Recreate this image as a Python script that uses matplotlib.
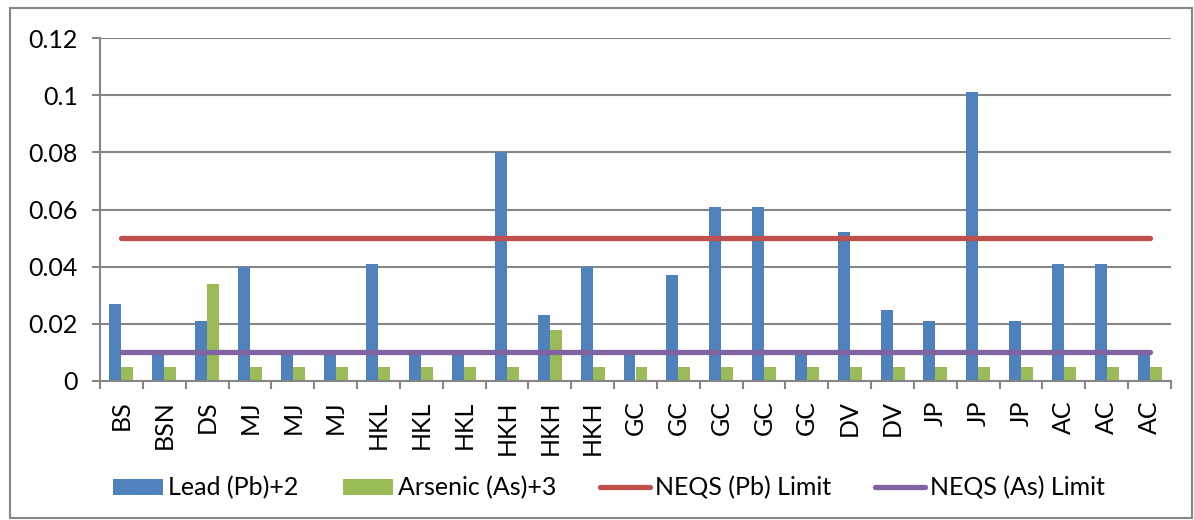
import numpy as np
import matplotlib.pyplot as plt
from matplotlib.patches import Rectangle
from matplotlib.ticker import FuncFormatter

sites = ["BS", "BSN", "DS", "MJ", "MJ", "MJ", "HKL", "HKL", "HKL", "HKH", "HKH", "HKH",
         "GC", "GC", "GC", "GC", "GC", "DV", "DV", "JP", "JP", "JP", "AC", "AC", "AC"]
lead = [0.027, 0.01, 0.021, 0.04, 0.01, 0.01, 0.041, 0.01, 0.01, 0.08, 0.023, 0.04,
        0.01, 0.037, 0.061, 0.061, 0.01, 0.052, 0.025, 0.021, 0.101, 0.021, 0.041, 0.041, 0.01]
arsenic = [0.005, 0.005, 0.034, 0.005, 0.005, 0.005, 0.005, 0.005, 0.005, 0.005, 0.018, 0.005,
           0.005, 0.005, 0.005, 0.005, 0.005, 0.005, 0.005, 0.005, 0.005, 0.005, 0.005, 0.005, 0.005]
neqs_pb = 0.05
neqs_as = 0.01

plt.rcParams['font.family'] = ['Lato', 'DejaVu Sans']
grey = '#868686'

fig = plt.figure(figsize=(11.94, 5.2), dpi=100)
ax = fig.add_axes([100 / 1194, 1 - 381 / 520, 1071 / 1194, 343 / 520])

x = np.arange(len(sites))
w = 0.28
b1 = ax.bar(x - w / 2, lead, w, color='#4F81BD', label='Lead (Pb)+2', zorder=2)
b2 = ax.bar(x + w / 2, arsenic, w, color='#9BBB59', label='Arsenic (As)+3', zorder=2)
l1, = ax.plot(x, [neqs_pb] * len(x), color='#C0504D', lw=3.8, solid_capstyle='round',
              label='NEQS (Pb) Limit', zorder=3)
l2, = ax.plot(x, [neqs_as] * len(x), color='#8064A2', lw=3.8, solid_capstyle='round',
              label='NEQS (As) Limit', zorder=3)

ax.set_xlim(-0.5, len(sites) - 0.5)
ax.set_ylim(0, 0.12)
ax.set_yticks(np.arange(0, 0.121, 0.02))
ax.yaxis.set_major_formatter(FuncFormatter(lambda v, p: '0' if abs(v) < 1e-9 else f'{v:.2f}'.rstrip('0')))
ax.yaxis.grid(True, color=grey, lw=1.5, zorder=0)

ax.set_xticks(x)
ax.set_xticklabels(sites, rotation=90)
ax.set_xticks(np.arange(-0.5, len(sites)), minor=True)
ax.tick_params(axis='x', which='major', length=0, pad=14, labelsize=18)
ax.tick_params(axis='x', which='minor', length=6, width=1.5, color=grey)
ax.tick_params(axis='y', length=6, width=1.5, color=grey, labelsize=18, pad=10)

for s in ['top', 'right']:
    ax.spines[s].set_visible(False)
for s in ['left', 'bottom']:
    ax.spines[s].set_color(grey)
    ax.spines[s].set_linewidth(1.5)

fig.legend(handles=[b1, b2, l1, l2], loc='center', bbox_to_anchor=(0.51, 1 - 488 / 520),
           ncol=4, frameon=False, fontsize=18, handlelength=2.0, handleheight=0.65,
           columnspacing=1.75, handletextpad=0.2)

fig.patches.append(Rectangle((10 / 1194, 2 / 520), 1182 / 1194, 510 / 520,
                             transform=fig.transFigure, fill=False, edgecolor=grey, lw=1.5))

fig.savefig('out.png', dpi=100)
